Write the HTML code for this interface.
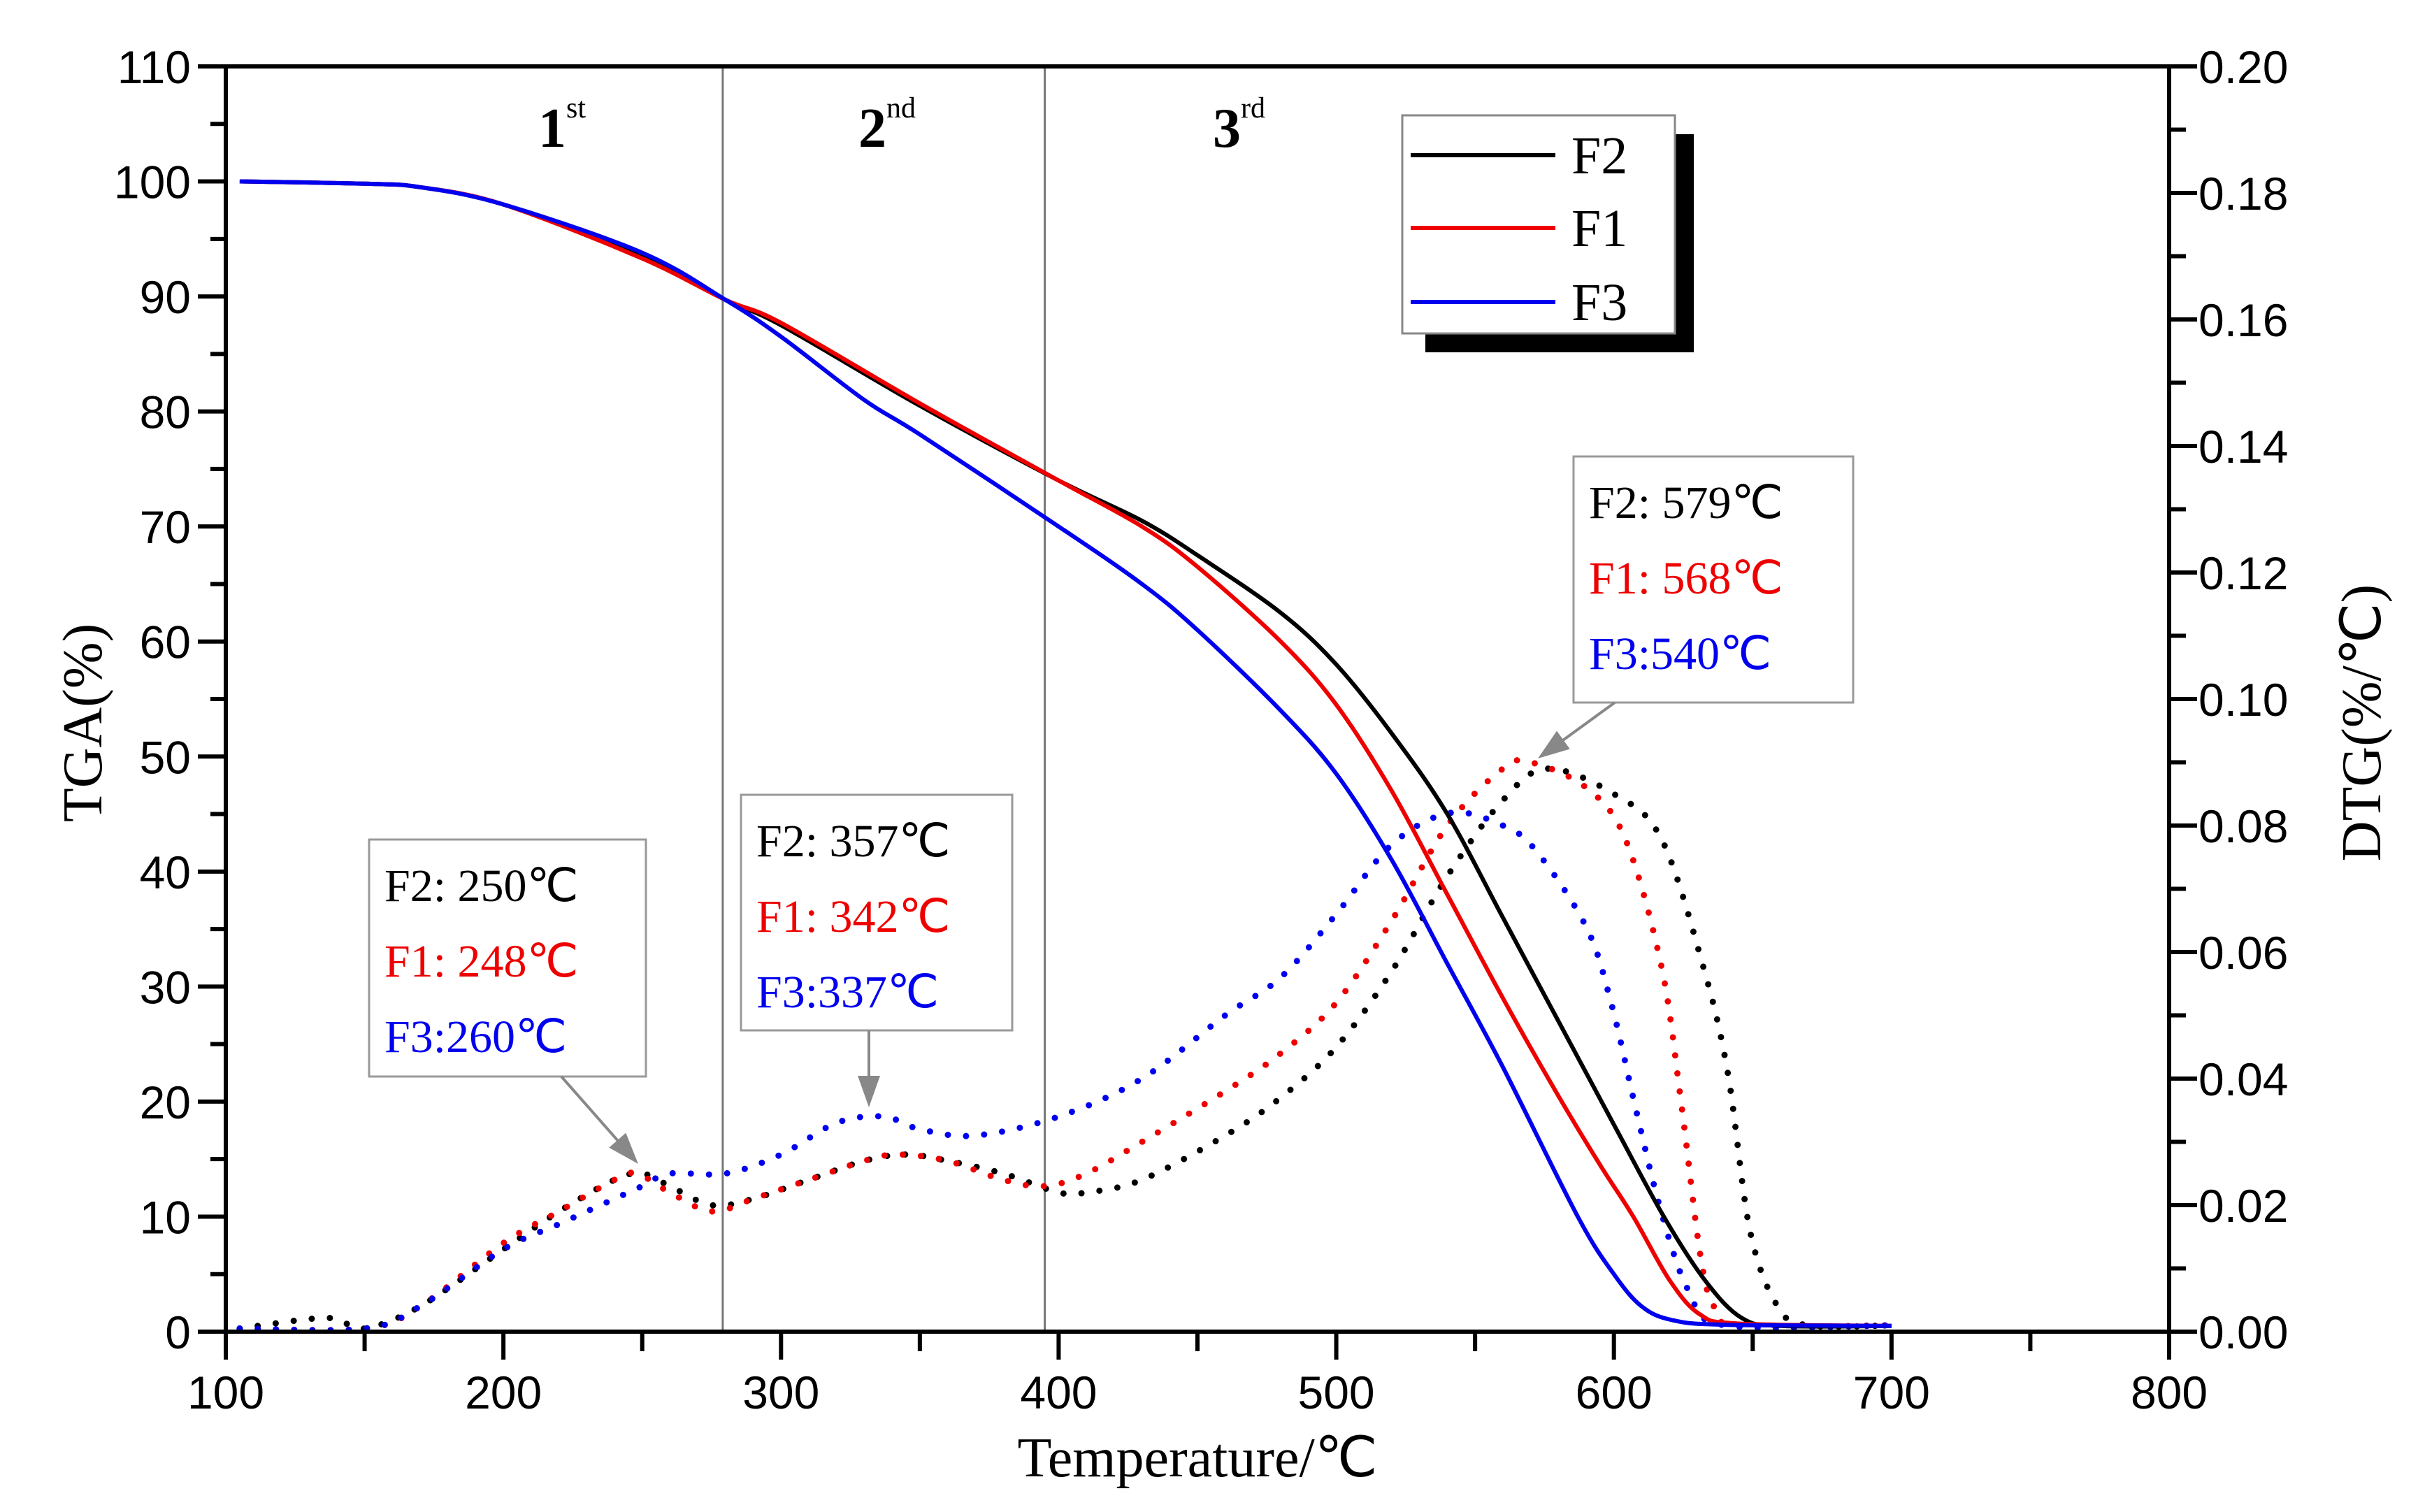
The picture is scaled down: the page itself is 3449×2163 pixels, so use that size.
<!DOCTYPE html>
<html><head><meta charset="utf-8"><style>
html,body{margin:0;padding:0;background:#fff;}
svg{display:block;}
.tk{font-family:"Liberation Sans",Arial,sans-serif;font-size:66px;fill:#000;}
.sf{font-family:"Liberation Serif","Times New Roman",serif;}
</style></head><body>
<svg id="chart" width="3449" height="2163" viewBox="0 0 3449 2163" xmlns="http://www.w3.org/2000/svg">
<g id="plot"></g>
</svg>
<script>
const xTicks=[100,200,300,400,500,600,700,800];
const yTicks=[0,10,20,30,40,50,60,70,80,90,100,110];
const rTicks=["0.00","0.02","0.04","0.06","0.08","0.10","0.12","0.14","0.16","0.18","0.20"];
const stageBounds=[279,395];
const tgaF2T=[105,150,170,200,250,280,300,350,400,430,450,480,500,520,540,560,580,600,618,633,646,660,700];
const tgaF2V=[100,99.8,99.5,98,93.5,89.7,87.5,80.5,74,70.5,67.5,62.5,58,52,45,36,27,18,10,4.4,1.2,0.5,0.5];
const tgaF1T=[105,150,170,200,250,280,300,350,400,430,450,480,500,520,540,560,580,595,607,620,631,645,700];
const tgaF1V=[100,99.8,99.5,98,93.3,89.7,87.7,80.7,74,70,66.5,60,54.5,47,38,29,20.5,14.5,10,4.5,1.5,0.7,0.5];
const tgaF3T=[105,150,170,200,250,280,300,330,350,400,430,450,480,500,520,540,560,587,600,610,621,640,700];
const tgaF3V=[100,99.8,99.5,98,93.8,89.7,86.5,81,78,70,65,61,54,48.5,41,32,23,10,5,2.2,1,0.6,0.5];
const dtgF2T=[105,130,140,150,170,200,220,240,250,260,275,290,310,330,345,360,380,400,410,430,460,480,500,520,540,560,576,600,617,632,641,649,659,670,700];
const dtgF2V=[0.0005,0.002,0.002,0.0005,0.004,0.013,0.019,0.024,0.025,0.023,0.02,0.021,0.024,0.027,0.028,0.027,0.025,0.022,0.022,0.024,0.031,0.037,0.045,0.057,0.072,0.084,0.089,0.085,0.078,0.058,0.041,0.016,0.004,0.001,0.001];
const dtgF1T=[105,150,170,200,220,240,248,260,275,290,310,330,342,360,380,395,410,430,460,480,500,520,540,560,570,590,604,617,624,631,636,645,700];
const dtgF1V=[0.0005,0.0005,0.004,0.014,0.019,0.024,0.025,0.022,0.019,0.021,0.024,0.027,0.028,0.027,0.024,0.023,0.025,0.03,0.038,0.044,0.052,0.065,0.08,0.089,0.09,0.086,0.078,0.058,0.037,0.0125,0.004,0.001,0.001];
const dtgF3T=[105,150,170,200,220,240,250,260,280,300,320,337,350,370,400,430,460,480,500,520,541,560,572,590,599,608,617,627,640,700];
const dtgF3V=[0.0005,0.0005,0.004,0.013,0.017,0.021,0.023,0.025,0.025,0.028,0.033,0.034,0.032,0.031,0.034,0.04,0.05,0.056,0.066,0.077,0.082,0.08,0.076,0.064,0.052,0.035,0.019,0.0064,0.001,0.001];

const NS="http://www.w3.org/2000/svg";
const g=document.getElementById('plot');
const X0=323,X1=3103,Y0=1905,Y1=95;
const sx=v=>X0+(v-100)/700*(X1-X0);
const sy=v=>Y0-v/110*(Y0-Y1);
const sr=v=>Y0-v/0.2*(Y0-Y1);
function mk(tag,at,txt){const e=document.createElementNS(NS,tag);for(const k in at)e.setAttribute(k,at[k]);if(txt!==undefined)e.textContent=txt;g.appendChild(e);return e;}
function pathOf(T,V,f){
const P=T.map((t,i)=>[sx(t),f(V[i])]);
let d='M'+P[0][0].toFixed(1)+','+P[0][1].toFixed(1);
for(let i=0;i<P.length-1;i++){
const p0=P[Math.max(0,i-1)],p1=P[i],p2=P[i+1],p3=P[Math.min(P.length-1,i+2)];
const c1x=p1[0]+(p2[0]-p0[0])/6,c1y=p1[1]+(p2[1]-p0[1])/6;
const c2x=p2[0]-(p3[0]-p1[0])/6,c2y=p2[1]-(p3[1]-p1[1])/6;
d+=` C${c1x.toFixed(1)},${c1y.toFixed(1)} ${c2x.toFixed(1)},${c2y.toFixed(1)} ${p2[0].toFixed(1)},${p2[1].toFixed(1)}`;}
return d;}

stageBounds.forEach(b=>{const e=mk('line',{x1:sx(b),x2:sx(b),y1:Y1,y2:Y0,stroke:'#777','stroke-width':3});

});

[[dtgF2T,dtgF2V,'#000','f2'],[dtgF1T,dtgF1V,'#e00','f1'],[dtgF3T,dtgF3V,'#00e','f3']].forEach(s=>{
const e=mk('path',{d:pathOf(s[0],s[1],sr),fill:'none',stroke:s[2],'stroke-width':9,'stroke-dasharray':'0 26','stroke-linecap':'round'});

});
[[tgaF2T,tgaF2V,'#000','f2'],[tgaF1T,tgaF1V,'#e00','f1'],[tgaF3T,tgaF3V,'#00e','f3']].forEach(s=>{
const e=mk('path',{d:pathOf(s[0],s[1],sy),fill:'none',stroke:s[2],'stroke-width':6,'stroke-linejoin':'round'});

});

const fr=mk('path',{d:`M${X0},${Y1} L${X1},${Y1} M${X0},${Y1} L${X0},${Y0} L${X1},${Y0} M${X1},${Y1} L${X1},${Y0}`,stroke:'#000','stroke-width':6,fill:'none'});



xTicks.forEach((t,i)=>{
mk('line',{x1:sx(t),x2:sx(t),y1:Y0,y2:Y0+40,stroke:'#000','stroke-width':6});
if(i<xTicks.length-1)mk('line',{x1:sx(t+50),x2:sx(t+50),y1:Y0,y2:Y0+28,stroke:'#000','stroke-width':6});
const l=mk('text',{x:sx(t),y:Y0+110,'text-anchor':'middle',class:'tk'},t);

});
yTicks.forEach((t,i)=>{
mk('line',{x1:X0-40,x2:X0,y1:sy(t),y2:sy(t),stroke:'#000','stroke-width':6});
if(i<yTicks.length-1)mk('line',{x1:X0-22,x2:X0,y1:sy(t+5),y2:sy(t+5),stroke:'#000','stroke-width':6});
const l=mk('text',{x:X0-50,y:sy(t)+24,'text-anchor':'end',class:'tk'},t);

});
rTicks.forEach((t,i)=>{const v=parseFloat(t);
mk('line',{x1:X1,x2:X1+40,y1:sr(v),y2:sr(v),stroke:'#000','stroke-width':6});
if(i<rTicks.length-1)mk('line',{x1:X1,x2:X1+24,y1:sr(v+0.01),y2:sr(v+0.01),stroke:'#000','stroke-width':6});
const l=mk('text',{x:X1+42,y:sr(v)+24,'text-anchor':'start',class:'tk'},t);

});

let e=mk('text',{x:1713,y:2112,'text-anchor':'middle',class:'sf','font-size':80},'Temperature/℃');


e=mk('text',{x:0,y:0,'text-anchor':'middle',class:'sf','font-size':80,transform:'translate(145,1034) rotate(-90)'},'TGA(%)');


e=mk('text',{x:0,y:0,'text-anchor':'middle',class:'sf','font-size':80,transform:'translate(3405,1034) rotate(-90)'},'DTG(%/℃)');



[['1','st',770],['2','nd',1228],['3','rd',1735]].forEach(s=>{
const t=mk('text',{x:s[2],y:210,class:'sf','font-size':80,'font-weight':'bold'});
t.innerHTML=s[0]+'<tspan dy="-42" font-size="42" font-weight="normal">'+s[1]+'</tspan>';

});

e=mk('rect',{x:2039,y:192,width:384,height:312,fill:'#000'});


e=mk('rect',{x:2006,y:165,width:390,height:312,fill:'#fff',stroke:'#888','stroke-width':3});


[['F2','#000',222],['F1','#e00',326],['F3','#00e',432]].forEach(s=>{
mk('line',{x1:2018,x2:2225,y1:s[2],y2:s[2],stroke:s[1],'stroke-width':6});
const t=mk('text',{x:2248,y:s[2]+26,class:'sf','font-size':76},s[0]);

});

function ann(bx,by,bw,bh,lines,ax1,ay1,ax2,ay2){
const r=mk('rect',{x:bx,y:by,width:bw,height:bh,fill:'#fff',stroke:'#999','stroke-width':3});


lines.forEach((l,i)=>{const t=mk('text',{x:bx+22,y:by+88+i*108,class:'sf','font-size':66,fill:l[1]},l[0]);

});
const dx=ax2-ax1,dy=ay2-ay1,L=Math.hypot(dx,dy),ux=dx/L,uy=dy/L;
mk('line',{x1:ax1,y1:ay1,x2:ax2-ux*40,y2:ay2-uy*40,stroke:'#888','stroke-width':4});
const hx=ax2-ux*45,hy=ay2-uy*45;
const a=mk('polygon',{points:`${ax2},${ay2} ${hx-uy*16},${hy+ux*16} ${hx+uy*16},${hy-ux*16}`,fill:'#888'});

}
ann(528,1201,396,339,[['F2: 250℃','#000'],['F1: 248℃','#e00'],['F3:260℃','#00e']],803,1540,913,1665);
ann(1060,1137,388,337,[['F2: 357℃','#000'],['F1: 342℃','#e00'],['F3:337℃','#00e']],1243,1474,1243,1584);
ann(2251,653,400,352,[['F2: 579℃','#000'],['F1: 568℃','#e00'],['F3:540℃','#00e']],2310,1005,2200,1085);
</script>
</body></html>
